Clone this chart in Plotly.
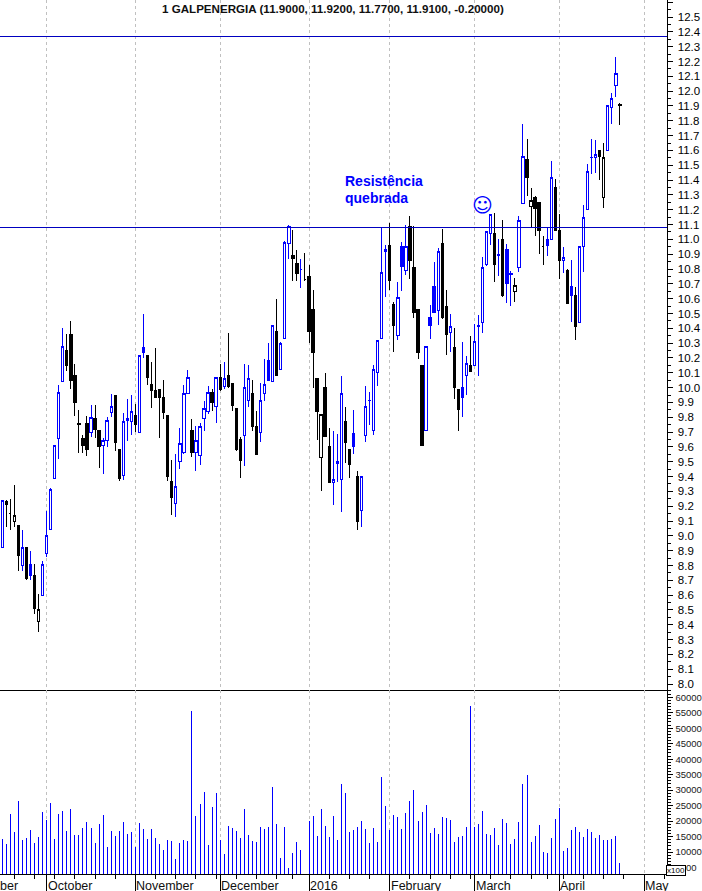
import plotly.graph_objects as go

TITLE = "1 GALPENERGIA (11.9000, 11.9200, 11.7700, 11.9100, -0.20000)"

opens = [
 8.92, 9.23, 9.15, 9.10, 9.07, 8.80, 8.92, 8.81, 8.73, 8.42,
 8.60, 8.88, 9.04, 9.39, 9.66, 10.04, 10.25, 10.36, 10.08, 9.76,
 9.66, 9.76, 9.70, 9.79, 9.71, 9.61, 9.64, 9.83, 9.95, 9.58,
 9.41, 9.79, 9.77, 9.81, 9.70, 10.27, 10.22, 10.02, 9.98, 9.99,
 9.93, 9.81, 9.37, 9.22, 9.50, 9.56, 9.96, 9.71, 9.56, 9.54,
 9.79, 9.84, 9.97, 9.87, 10.07, 10.01, 10.08, 10.03, 9.86, 9.65,
 9.68, 9.91, 9.96, 9.74, 9.70, 9.96, 10.18, 10.04, 10.38, 10.12,
 10.33, 10.97, 10.89, 10.84, 10.80, 10.73, 10.75, 10.53, 10.06, 9.53,
 10.00, 9.60, 9.36, 9.50, 9.38, 9.77, 9.58, 9.69, 9.40, 9.17,
 9.68, 9.91, 9.71, 10.10, 10.33, 10.93, 10.96, 10.56, 10.35, 10.95,
 10.79, 11.09, 10.81, 10.53, 10.15, 9.71, 10.47, 10.68, 10.52, 10.97,
 10.55, 10.37, 10.27, 9.99, 10.00, 10.08, 10.15, 10.15, 10.42, 10.44,
 10.83, 11.04, 11.04, 10.90, 11.00, 10.93, 10.77, 10.65, 10.81, 11.24,
 11.54, 11.22, 11.28, 11.25, 10.95, 11.00, 11.00, 11.35, 11.06, 10.86,
 10.79, 10.68, 10.62, 10.44, 10.95, 11.20, 11.55, 11.55, 11.60, 11.28,
 11.60, 11.89, 12.04, 11.90,
]
highs = [
 9.24, 9.24, 9.25, 9.34, 9.07, 9.04, 8.92, 8.90, 8.81, 8.61,
 8.83, 9.17, 9.32, 9.61, 10.02, 10.40, 10.36, 10.45, 10.16, 9.85,
 9.68, 9.81, 9.88, 9.88, 9.71, 9.66, 9.80, 9.96, 9.95, 9.58,
 9.83, 9.92, 9.95, 9.89, 10.22, 10.50, 10.22, 10.17, 10.27, 9.99,
 10.05, 9.81, 9.51, 9.55, 9.73, 10.02, 10.12, 9.79, 9.74, 9.76,
 9.91, 10.01, 9.99, 10.07, 10.16, 10.17, 10.37, 10.03, 9.86, 9.67,
 10.16, 10.15, 10.05, 9.84, 10.03, 10.19, 10.30, 10.42, 10.60, 10.31,
 10.99, 11.10, 11.06, 10.93, 10.87, 10.91, 10.83, 10.66, 10.06, 9.82,
 10.10, 9.73, 9.71, 9.69, 10.08, 9.87, 9.58, 9.85, 9.44, 9.40,
 10.01, 9.97, 10.15, 10.32, 11.08, 10.96, 11.11, 10.58, 10.71, 10.98,
 11.10, 11.16, 11.09, 10.53, 10.15, 10.28, 10.56, 10.85, 10.94, 11.07,
 10.66, 10.50, 10.40, 9.99, 10.31, 10.21, 10.35, 10.43, 10.49, 10.88,
 11.05, 11.17, 11.18, 11.00, 11.13, 10.97, 10.79, 10.74, 11.16, 11.78,
 11.68, 11.35, 11.29, 11.25, 11.02, 11.08, 11.53, 11.41, 11.17, 10.95,
 10.80, 10.86, 10.68, 10.95, 11.23, 11.51, 11.68, 11.67, 11.60, 11.65,
 11.90, 11.99, 12.23, 11.92,
]
lows = [
 8.92, 9.06, 9.04, 9.06, 8.76, 8.76, 8.70, 8.70, 8.47, 8.35,
 8.60, 8.86, 9.04, 9.39, 9.52, 10.04, 10.11, 9.99, 9.81, 9.56,
 9.56, 9.54, 9.67, 9.66, 9.46, 9.42, 9.60, 9.80, 9.57, 9.37,
 9.38, 9.64, 9.68, 9.70, 9.70, 10.20, 10.02, 9.86, 9.93, 9.66,
 9.79, 9.37, 9.14, 9.13, 9.45, 9.55, 9.96, 9.53, 9.44, 9.48,
 9.71, 9.82, 9.84, 9.76, 9.98, 9.99, 10.00, 9.84, 9.57, 9.39,
 9.47, 9.87, 9.71, 9.55, 9.63, 9.91, 10.05, 10.04, 10.08, 10.12,
 10.33, 10.87, 10.72, 10.72, 10.67, 10.72, 10.30, 10.00, 9.65, 9.30,
 9.67, 9.36, 9.21, 9.36, 9.16, 9.49, 9.39, 9.55, 9.04, 9.06,
 9.63, 9.75, 9.68, 10.01, 10.33, 10.61, 10.66, 10.24, 10.32, 10.65,
 10.76, 10.73, 10.47, 10.19, 9.61, 9.71, 10.33, 10.51, 10.42, 10.46,
 10.22, 10.24, 9.92, 9.71, 9.80, 9.95, 10.11, 10.15, 10.08, 10.37,
 10.82, 10.96, 10.71, 10.75, 10.61, 10.57, 10.55, 10.58, 10.78, 11.24,
 11.29, 11.08, 11.02, 10.90, 10.83, 10.89, 11.00, 11.06, 10.73, 10.77,
 10.57, 10.44, 10.32, 10.44, 10.78, 11.20, 11.44, 11.45, 11.40, 11.21,
 11.60, 11.78, 11.96, 11.77,
]
closes = [
 9.24, 9.21, 9.15, 9.14, 8.87, 8.92, 8.71, 8.73, 8.51, 8.50,
 8.81, 9.00, 9.31, 9.61, 9.97, 10.28, 10.15, 10.05, 9.90, 9.75,
 9.61, 9.58, 9.80, 9.72, 9.60, 9.64, 9.78, 9.87, 9.63, 9.39,
 9.77, 9.78, 9.84, 9.75, 10.22, 10.24, 10.07, 9.98, 9.93, 9.93,
 9.83, 9.40, 9.26, 9.33, 9.62, 9.96, 10.07, 9.56, 9.64, 9.74,
 9.86, 9.97, 9.90, 10.07, 9.99, 10.06, 10.01, 9.88, 9.58, 9.51,
 10.00, 10.06, 9.74, 9.55, 9.91, 10.02, 10.05, 10.42, 10.08, 10.30,
 10.98, 11.09, 10.87, 10.77, 10.80, 10.73, 10.38, 10.24, 9.84, 9.82,
 9.67, 9.36, 9.38, 9.49, 9.96, 9.63, 9.48, 9.60, 9.10, 9.40,
 9.87, 9.91, 10.12, 10.32, 10.78, 10.92, 10.72, 10.42, 10.61, 10.82,
 10.95, 10.86, 10.51, 10.24, 9.61, 10.28, 10.42, 10.51, 10.92, 10.47,
 10.36, 10.41, 10.00, 9.85, 9.93, 10.16, 10.11, 10.31, 10.41, 10.81,
 11.05, 11.17, 10.83, 10.89, 10.62, 10.70, 10.76, 10.69, 11.13, 11.56,
 11.42, 11.26, 11.21, 11.06, 10.95, 10.96, 11.42, 11.06, 10.86, 10.88,
 10.57, 10.62, 10.41, 10.95, 11.15, 11.46, 11.55, 11.57, 11.56, 11.55,
 11.90, 11.95, 12.12, 11.91,
]
# b = close at or above previous close (blue), k = below it (black)
tones = ("bkkkkbkbkk" "bbbbbbkkkk" "kkbkkbbbkk" "bbbkbbkkkk"
         "kkkbbbbkbb" "bbkbkbkkkk" "bbkkbbbbkb" "bbkkbkkkkk"
         "kkbbbkkbkb" "bbbbbbkkbb" "bkkkkbbbbk" "kbkkbbkbbb"
         "bbkbkbbkbb" "kkkkkbbkkb" "kbkbbbbbkk" "bbbk")
volumes = [
 14200, 12600, 22300, 16500, 26500, 13900, 14500, 17100, 12900, 14900,
 22900, 20300, 25800, 14200, 22300, 23200, 16800, 23900, 15500, 15500,
 17800, 19700, 17800, 12900, 19100, 22000, 11600, 16800, 15200, 16800,
 19700, 15800, 16500, 11600, 19400, 17400, 14200, 17400, 14500, 12600,
 10700, 13900, 13600, 7800, 12900, 13900, 13600, 55400, 21600, 25500,
 29400, 12300, 24500, 29000, 13900, 9400, 18400, 17800, 16800, 14500,
 23900, 15500, 13600, 13300, 18100, 17400, 18100, 31000, 19100, 8100,
 18100, 4900, 9700, 13300, 10700, 0, 20000, 21600, 15200, 23900,
 18400, 14900, 21600, 13900, 31900, 29000, 16500, 17100, 18100, 20000,
 17400, 12900, 17800, 13300, 34200, 24900, 17100, 22000, 21300, 17400,
 22600, 26500, 30000, 20000, 22900, 25200, 16200, 17800, 15800, 21300,
 21000, 20300, 13300, 14900, 15200, 18100, 57000, 18100, 19100, 23200,
 15800, 15500, 17800, 12300, 20700, 19400, 12600, 14200, 19700, 31900,
 34800, 13300, 15200, 18700, 10000, 9700, 14500, 20700, 24200, 10400,
 11300, 17100, 18100, 16500, 14900, 17400, 16500, 14500, 15500, 13900,
 13900, 14200, 15200, 6500,
]
levels = [12.37, 11.08]
month_sessions = [11, 33, 54, 76, 96, 117, 138, 159]
month_names = ["October", "November", "December", "2016", "February", "March", "April", "May"]
week_sessions = [3, 8, 13, 18, 23, 28, 38, 43, 48, 53, 58, 63, 68, 72, 81, 86, 91, 101,
                 106, 111, 116, 121, 126, 131, 135, 139, 144, 149, 154, 164]
price_ticks = [round(8.0 + 0.1 * n, 1) for n in range(47)]
price_labels = [f"{v:.1f}" if v <= 12.5 else "" for v in price_ticks]
price_minor = [round(8.0 + 0.1 * n + 0.05, 2) for n in range(46)]
vol_ticks = list(range(5000, 65000, 5000))
vol_minor = list(range(3000, 63000, 1000))

W, H = 702, 891
X_END = 666.5 / W
Y_SPLIT = (H - 690) / H
Y_BASE = (H - 874.3) / H
X_RANGE = [-0.545, 164.55]
BLUE, BLACK, RULE, GRID = "#0000ff", "#000000", "#0000c0", "#c0c0c0"
FONT = "Liberation Sans"


def candles(tone, color):
    idx = [i for i, t in enumerate(tones) if t == tone]
    return go.Candlestick(
        x=idx,
        open=[opens[i] for i in idx], high=[highs[i] for i in idx],
        low=[lows[i] for i in idx], close=[closes[i] for i in idx],
        increasing=dict(line=dict(color=color, width=1), fillcolor="#ffffff"),
        decreasing=dict(line=dict(color=color, width=1), fillcolor=color),
        whiskerwidth=0, showlegend=False, hoverinfo="skip",
        xaxis="x", yaxis="y",
    )


fig = go.Figure()
fig.add_trace(candles("b", BLUE))
fig.add_trace(candles("k", BLACK))
fig.add_trace(go.Bar(x=list(range(len(volumes))), y=volumes, width=0.2477,
                     marker=dict(color="rgba(0,0,255,0.999)", line=dict(width=0)),
                     showlegend=False, hoverinfo="skip", xaxis="x2", yaxis="y2"))

x_common = dict(range=X_RANGE, domain=[0, X_END], showgrid=True, gridcolor=GRID, griddash="3px,3px",
                gridwidth=1, tickmode="array", tickvals=month_sessions, zeroline=False,
                showline=True, linecolor=BLACK, linewidth=1, fixedrange=True)
y_common = dict(side="right", showline=True, linecolor=BLACK, linewidth=1, showgrid=False,
                zeroline=False, ticks="outside", tickcolor=BLACK, tickwidth=1, ticklen=5,
                tickmode="array", fixedrange=True)

fig.update_layout(
    width=W, height=H, margin=dict(l=0, r=0, t=0, b=0), autosize=False,
    paper_bgcolor="#ffffff", plot_bgcolor="#ffffff", template="none",
    showlegend=False, boxgap=0.17, bargap=0,
    xaxis=dict(x_common, anchor="y", ticks="", showticklabels=False, rangeslider=dict(visible=False)),
    xaxis2=dict(x_common, anchor="y2", ticks="outside", ticklen=17, tickcolor=BLACK, tickwidth=1,
                showticklabels=False,
                minor=dict(tickmode="array", tickvals=week_sessions, ticks="outside", ticklen=4,
                           tickcolor=BLACK, tickwidth=1, showgrid=False)),
    yaxis=dict(y_common, domain=[Y_SPLIT, 1], anchor="x", range=[7.96, 12.615],
               tickvals=price_ticks, ticktext=price_labels, ticklabelstandoff=3,
               tickfont=dict(family=FONT, size=11.5, color=BLACK),
               minor=dict(tickmode="array", tickvals=price_minor, ticks="outside", ticklen=3,
                          tickcolor=BLACK, tickwidth=1, showgrid=False)),
    yaxis2=dict(y_common, domain=[Y_BASE, Y_SPLIT], anchor="x2", range=[2854, 62320],
                tickvals=vol_ticks, ticktext=[str(v) for v in vol_ticks], ticklabelstandoff=1,
                tickfont=dict(family=FONT, size=9.5, color="#202020"),
                minor=dict(tickmode="array", tickvals=vol_minor, ticks="outside", ticklen=3,
                           tickcolor=BLACK, tickwidth=1, showgrid=False)),
)

for level in levels:
    fig.add_shape(type="line", xref="x domain", yref="y", x0=0, x1=1, y0=level, y1=level,
                  line=dict(color=RULE, width=1), layer="above")


def label(text, px, py, **kw):
    base = dict(text=text, x=px / W, y=1 - py / H, xref="paper", yref="paper", showarrow=False,
                yanchor="middle", xanchor="left")
    base.update(kw)
    fig.add_annotation(**base)


label(f"<b>{TITLE}</b>", 332.7, 8.5, xanchor="center", font=dict(family=FONT, size=11.6, color="#101010"))
label("<b>Resistência</b>", 343, 181, font=dict(family=FONT, size=14, color=BLUE))
label("<b>quebrada</b>", 343, 198, font=dict(family=FONT, size=14, color=BLUE))
label("☺", 482, 205, xanchor="center", font=dict(family="DejaVu Sans", size=20, color=BLUE))
label("September", 20, 885.5, xanchor="right", font=dict(family=FONT, size=12.5, color="#101010"))
for session, name in zip(month_sessions, month_names):
    fig.add_annotation(text=name, x=session, xref="x2", y=1 - 885.5 / H, yref="paper",
                       xanchor="left", yanchor="middle", showarrow=False, xshift=-1,
                       font=dict(family=FONT, size=12.5, color="#101010"))
label("x100", 676, 870, xanchor="center", bgcolor="#ffffff", bordercolor=BLACK, borderwidth=1, borderpad=0,
      font=dict(family=FONT, size=8, color=BLACK))

page_setup = (
    "document.body.style.margin='0';document.body.style.overflow='hidden';"
    "var s=document.createElement('style');"
    "s.textContent='.boxlayer path,.shapelayer path{shape-rendering:crispEdges}';"
    "document.head.appendChild(s);"
)
fig.write_html("out.html", post_script=page_setup, config=dict(displayModeBar=False, staticPlot=False))
